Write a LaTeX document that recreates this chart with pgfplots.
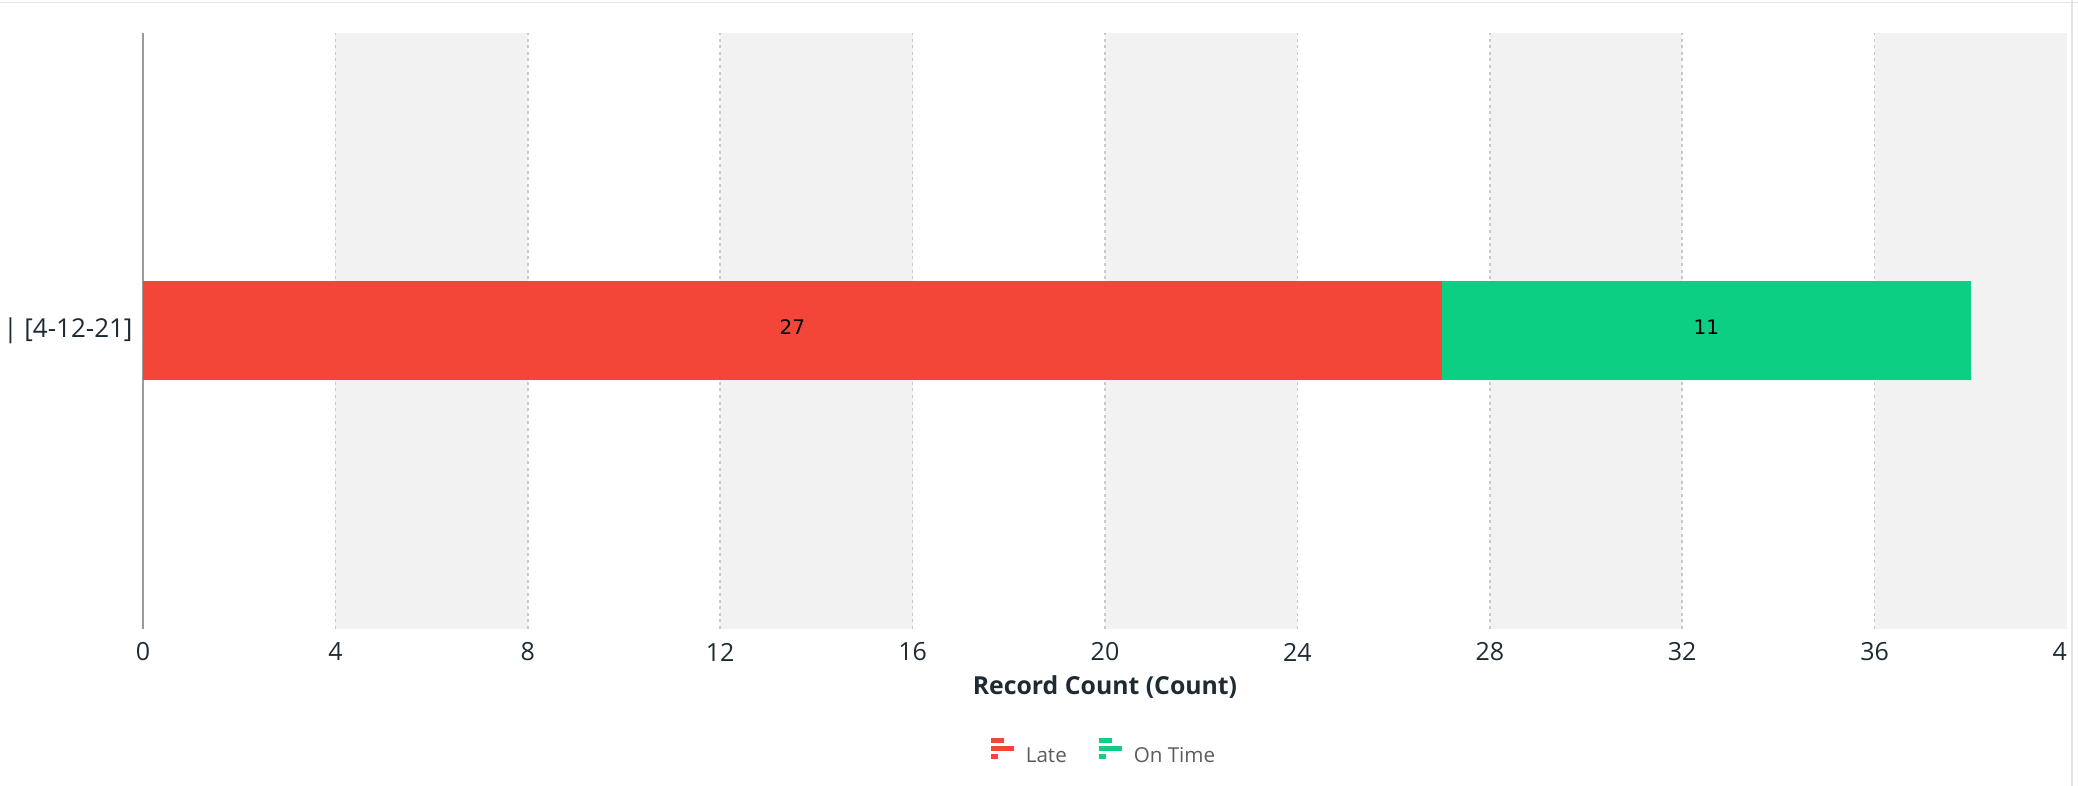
\documentclass[border=0pt]{standalone}
\usepackage{pgfplots}
\pgfplotsset{compat=1.18}
\usepackage{fontspec}
\setmainfont{Open Sans}
\newfontfamily\dejavu{DejaVu Sans}
\definecolor{late}{HTML}{F44539}
\definecolor{ontime}{HTML}{0CCF84}
\definecolor{band}{HTML}{F2F2F2}
\definecolor{gridc}{HTML}{C9C9C9}
\definecolor{axisc}{HTML}{9A9A9A}
\definecolor{txt}{HTML}{1E2B33}
\definecolor{legtxt}{HTML}{5C5C5C}
\definecolor{framec}{HTML}{E4E4E4}
\pgfplotsset{iconlegend/.style={legend image code/.code={%
  \fill[##1,draw=none] (0pt,6.7pt) rectangle (6.5pt,9.2pt);
  \fill[##1,draw=none] (0pt,2.7pt) rectangle (11.5pt,5.2pt);
  \fill[##1,draw=none] (0pt,-1.3pt) rectangle (3.5pt,1.2pt);}}}
\pgfplotsset{geom/.style={at={(71.5pt,78.5pt)}, anchor=south west,
  scale only axis, width=962pt, height=298pt,
  xmin=0, xmax=40, ymin=-1, ymax=1}}
\begin{document}
\begin{tikzpicture}[x=1pt,y=1pt]
\useasboundingbox (0,0) rectangle (1039,393);
% background bands
\begin{axis}[geom, hide axis]
\fill[band] (axis cs:4,-1) rectangle (axis cs:8,1);
\fill[band] (axis cs:12,-1) rectangle (axis cs:16,1);
\fill[band] (axis cs:20,-1) rectangle (axis cs:24,1);
\fill[band] (axis cs:28,-1) rectangle (axis cs:32,1);
\fill[band] (axis cs:36,-1) rectangle (axis cs:40,1);
\end{axis}
% main axis
\begin{axis}[geom,
  xbar stacked, bar width=49.5pt,
  axis y line*=left, axis x line*=bottom,
  x axis line style={draw=none},
  y axis line style={draw=axisc, line width=0.8pt, -},
  xtick={0,4,...,40}, ytick={0}, yticklabels={| [4-12-21]},
  minor xtick={4,8,...,36}, xminorgrids,
  minor grid style={gridc, line width=0.85pt, dash pattern=on 1.5pt off 1.8pt},
  major tick length=0, minor tick length=0,
  /pgf/number format/assume math mode=true,
  xticklabel style={anchor=center, yshift=-11.5pt, font=\fontsize{12.5}{14}\selectfont, text=txt},
  yticklabel style={anchor=east, xshift=-1.7pt, font=\fontsize{13}{15}\selectfont, text=txt},
  xlabel={Record Count (Count)},
  xlabel style={at={(axis description cs:0.5,0)}, anchor=center, yshift=-29.2pt, font=\fontsize{12.4}{14}\selectfont\bfseries, text=txt},
  legend style={at={(0.5,-0.21)}, anchor=center, draw=none, fill=none, legend columns=-1,
    font=\fontsize{10.3}{12}\selectfont, text=legtxt,
    /tikz/every even column/.append style={column sep=14pt},
    /tikz/every odd column/.append style={column sep=4pt}},
]
\addplot[fill=late, draw=none, iconlegend] coordinates {(27,0)};
\addplot[fill=ontime, draw=none, iconlegend] coordinates {(11,0)};
\legend{Late, On Time}
\end{axis}
% value labels
\begin{axis}[geom, hide axis, clip=false]
\addplot[only marks, mark=*, mark size=0pt, mark options={draw=none, fill=none},
  nodes near coords, point meta=explicit symbolic,
  nodes near coords style={anchor=center, yshift=2pt, font=\dejavu\fontsize{10}{12}\selectfont, text=black}]
  coordinates {(13.5,0) [27] (32.5,0) [11]};
\end{axis}
\fill[white] (1034,0) rectangle (1039,393);
\draw[framec, line width=0.75pt] (0,391.75) -- (1039,391.75);
\draw[framec, line width=0.9pt] (1036,0) -- (1036,393);
\end{tikzpicture}
\end{document}
